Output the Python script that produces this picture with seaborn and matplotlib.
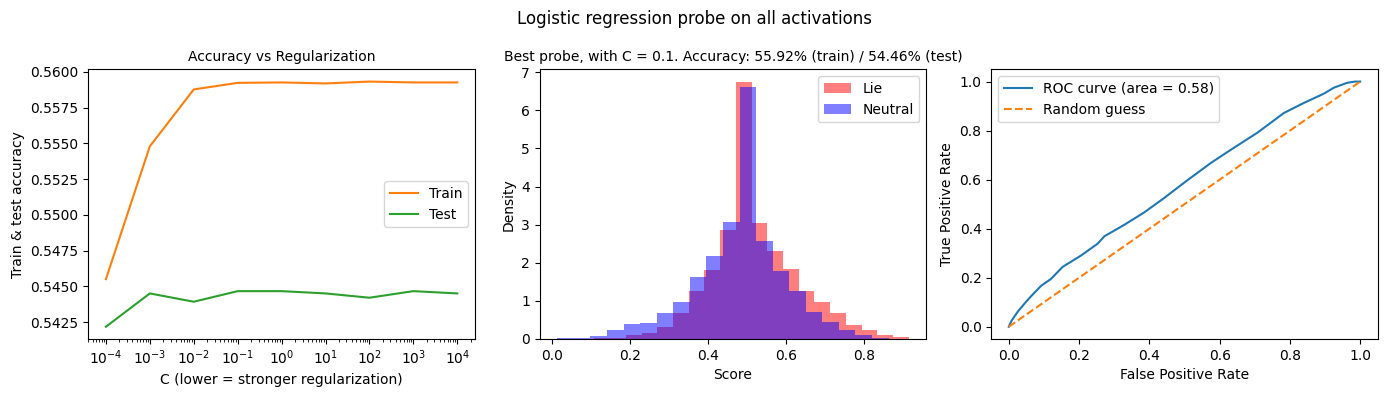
import numpy as np
import pandas as pd
import matplotlib
matplotlib.use("Agg")
import matplotlib.pyplot as plt
import seaborn as sns

# ---- Data ----
C_values = [1e-4, 1e-3, 1e-2, 1e-1, 1e0, 1e1, 1e2, 1e3, 1e4]
train_acc = [0.5455, 0.55479, 0.55877, 0.55923, 0.55926, 0.55919, 0.55932, 0.55926, 0.55926]
test_acc = [0.54217, 0.5445, 0.54392, 0.54466, 0.54466, 0.5445, 0.5442, 0.54466, 0.5445]

lie_min, lie_max = 0.108, 0.9146
lie_density = [0.03, 0.035, 0.10, 0.16, 0.31, 0.68, 1.26, 1.81, 2.86, 6.74,
               3.04, 2.31, 1.85, 1.27, 0.96, 0.68, 0.37, 0.24, 0.105, 0.05]
neutral_min, neutral_max = 0.0128, 0.8628
neutral_density = [0.026, 0.03, 0.08, 0.24, 0.39, 0.42, 0.68, 0.97, 1.62, 2.17,
                   3.06, 6.62, 2.57, 1.78, 1.27, 0.71, 0.45, 0.24, 0.10, 0.035]

fpr = [0, 0.008, 0.026, 0.045, 0.063, 0.092, 0.120, 0.153, 0.205, 0.253, 0.272, 0.329,
       0.386, 0.442, 0.504, 0.575, 0.632, 0.707, 0.783, 0.840, 0.897, 0.925, 0.963, 0.985, 1.0]
tpr = [0, 0.025, 0.0625, 0.095, 0.124, 0.167, 0.195, 0.244, 0.290, 0.339, 0.369, 0.416,
       0.467, 0.525, 0.593, 0.668, 0.722, 0.791, 0.872, 0.913, 0.951, 0.975, 0.995, 1.0, 1.0]
roc_auc = 0.58

title_main = "Logistic regression probe on all activations"
title_left = "Accuracy vs Regularization"
title_mid = "Best probe, with C = 0.1. Accuracy: 55.92% (train) / 54.46% (test)"

# ---- Plot ----
fig, axes = plt.subplots(1, 3, figsize=(13.89, 3.97), dpi=100)
fig.subplots_adjust(left=0.0636, right=0.9919, bottom=0.1461, top=0.8254, wspace=0.168)

# Left panel
ax = axes[0]
sns.lineplot(x=C_values, y=train_acc, ax=ax, color="tab:orange", label="Train", estimator=None)
sns.lineplot(x=C_values, y=test_acc, ax=ax, color="tab:green", label="Test", estimator=None)
ax.set_xscale("log")
ax.set_xticks(C_values)
ax.set_xlabel("C (lower = stronger regularization)")
ax.set_ylabel("Train & test accuracy")
ax.set_title(title_left, fontsize=10)
ax.legend(loc="center right")

# Middle panel
ax = axes[1]
lie_edges = np.linspace(lie_min, lie_max, len(lie_density) + 1)
neu_edges = np.linspace(neutral_min, neutral_max, len(neutral_density) + 1)
lie_df = pd.DataFrame({"score": (lie_edges[:-1] + lie_edges[1:]) / 2, "w": lie_density})
neu_df = pd.DataFrame({"score": (neu_edges[:-1] + neu_edges[1:]) / 2, "w": neutral_density})
sns.histplot(data=lie_df, x="score", weights="w", bins=list(lie_edges), stat="count",
             color="red", alpha=0.5, linewidth=0, ax=ax, label="Lie")
sns.histplot(data=neu_df, x="score", weights="w", bins=list(neu_edges), stat="count",
             color="blue", alpha=0.5, linewidth=0, ax=ax, label="Neutral")
ax.set_xlabel("Score")
ax.set_ylabel("Density")
ax.set_title(title_mid, fontsize=10)
ax.legend(loc="upper right")

# Right panel
ax = axes[2]
sns.lineplot(x=fpr, y=tpr, ax=ax, color="tab:blue", estimator=None, sort=False,
             label=f"ROC curve (area = {roc_auc:.2f})")
sns.lineplot(x=[0, 1], y=[0, 1], ax=ax, color="tab:orange", linestyle="--",
             estimator=None, label="Random guess")
ax.set_xlabel("False Positive Rate")
ax.set_ylabel("True Positive Rate")
ax.legend(loc="upper left")

fig.suptitle(title_main, y=0.975)
fig.savefig("out.png", dpi=100)
